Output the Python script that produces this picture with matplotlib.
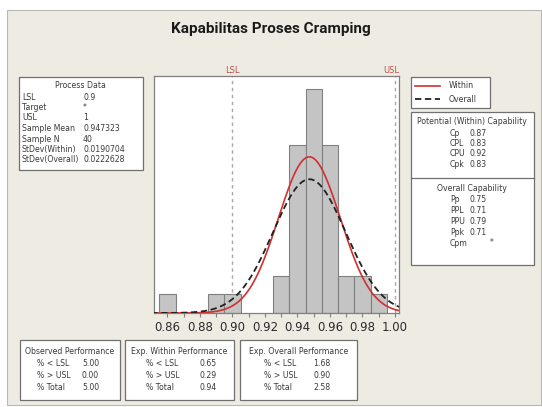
import numpy as np
import matplotlib
matplotlib.use('Agg')
import matplotlib.pyplot as plt
from matplotlib.patches import Rectangle

# Process data / histogram values
bin_centers = [0.86, 0.89, 0.90, 0.93, 0.94, 0.95, 0.96, 0.97, 0.98, 0.99]
counts = [1, 1, 1, 2, 9, 12, 9, 2, 2, 1]
bin_width = 0.01
lsl = 0.9
usl = 1.0
mean = 0.947323
n = 40
sd_within = 0.0190704
sd_overall = 0.0222628

process_labels = ['LSL', 'Target', 'USL', 'Sample Mean', 'Sample N', 'StDev(Within)', 'StDev(Overall)']
process_values = ['0.9', '*', '1', '0.947323', '40', '0.0190704', '0.0222628']

within_labels = ['Cp', 'CPL', 'CPU', 'Cpk']
within_values = ['0.87', '0.83', '0.92', '0.83']
overall_labels = ['Pp', 'PPL', 'PPU', 'Ppk', 'Cpm']
overall_values = ['0.75', '0.71', '0.79', '0.71', '*']

perf_labels = ['% < LSL', '% > USL', '% Total']
observed_perf = ['5.00', '0.00', '5.00']
within_perf = ['0.65', '0.29', '0.94']
overall_perf = ['1.68', '0.90', '2.58']

W, H = 542, 407
BG = '#EEEBE2'
EDGE = '#707070'
TXT = '#3A3A3A'
FS = 5.6

fig = plt.figure(figsize=(W / 100, H / 100), dpi=100)
fig.patch.set_facecolor('white')


def fx(x):
    return x / W


def fy(y):
    return 1 - y / H


def box(x0, y0, x1, y1, face='white'):
    fig.patches.append(Rectangle((fx(x0), fy(y1)), fx(x1) - fx(x0), fy(y0) - fy(y1),
                                 transform=fig.transFigure, facecolor=face,
                                 edgecolor=EDGE, lw=0.9, zorder=0))


def txt(x, y, s, ha='left', **kw):
    fig.text(fx(x), fy(y), s, ha=ha, va='center', fontsize=kw.pop('fontsize', FS),
             color=kw.pop('color', TXT), family='DejaVu Sans', **kw)


# outer graph panel
fig.patches.append(Rectangle((fx(7), fy(405)), fx(541) - fx(7), fy(10) - fy(405),
                             transform=fig.transFigure, facecolor=BG,
                             edgecolor='#B8B8B8', lw=0.8, zorder=-1))

fig.text(fx(271), fy(29), 'Kapabilitas Proses Cramping', ha='center', va='center',
         fontsize=11, fontweight='bold', color='#1A1A1A', family='Roboto')

# main histogram
ax = fig.add_axes([fx(154), fy(313), fx(399) - fx(154), fy(76) - fy(313)])
ax.set_facecolor('white')
ax.bar(bin_centers, counts, width=bin_width, color='#C4C4C4', edgecolor='#808080', lw=0.8, zorder=2)

xs = np.linspace(0.85, 1.005, 400)
pdf_w = n * bin_width * np.exp(-0.5 * ((xs - mean) / sd_within) ** 2) / (sd_within * np.sqrt(2 * np.pi))
pdf_o = n * bin_width * np.exp(-0.5 * ((xs - mean) / sd_overall) ** 2) / (sd_overall * np.sqrt(2 * np.pi))
ax.plot(xs, pdf_w, color='#D03030', lw=1.2, zorder=4)
ax.plot(xs, pdf_o, color='#222222', lw=1.3, ls=(0, (3.5, 2)), zorder=5)

ax.axvline(lsl, color='#A8A8A8', lw=1.0, ls=(0, (2.5, 2.5)), zorder=1)
ax.axvline(usl, color='#A8A8A8', lw=1.0, ls=(0, (2.5, 2.5)), zorder=1)
ax.text(lsl, 1.006, 'LSL', transform=ax.get_xaxis_transform(), ha='center', va='bottom',
        fontsize=6, color='#C05050')
ax.text(usl - 0.002, 1.006, 'USL', transform=ax.get_xaxis_transform(), ha='center', va='bottom',
        fontsize=6, color='#C05050')

ax.set_xlim(0.8517, 1.0025)
ax.set_ylim(0, 12.7)
major = np.round(np.arange(0.86, 1.001, 0.02), 2)
ax.set_xticks(major)
ax.set_xticklabels(['%.2f' % t for t in major])
ax.set_xticks(np.round(np.arange(0.87, 1.0, 0.02), 2), minor=True)
ax.set_yticks([])
ax.tick_params(axis='x', which='both', labelsize=8.5, colors='#808080', length=3, width=0.8, pad=3,
               labelcolor='#2A2A2A')
for s in ax.spines.values():
    s.set_color('#808080')
    s.set_linewidth(0.9)

# Process Data box
box(19, 77, 143, 170)
txt(80, 85, 'Process Data', ha='center')
for i, (lab, val) in enumerate(zip(process_labels, process_values)):
    y = 97 + i * 10.5
    txt(22, y, lab)
    txt(83, y, val)

# legend box
box(411, 77, 490, 108)
fig.lines.append(plt.Line2D([fx(415), fx(440)], [fy(86), fy(86)], transform=fig.transFigure,
                            color='#D03030', lw=1.2))
fig.lines.append(plt.Line2D([fx(415), fx(440)], [fy(99), fy(99)], transform=fig.transFigure,
                            color='#222222', lw=1.3, ls=(0, (3.5, 2))))
txt(449, 86, 'Within')
txt(449, 99, 'Overall')

# capability box
box(411, 112, 534, 265)
fig.lines.append(plt.Line2D([fx(411), fx(534)], [fy(178), fy(178)], transform=fig.transFigure,
                            color=EDGE, lw=0.9))
txt(472, 122, 'Potential (Within) Capability', ha='center')
for i, (lab, val) in enumerate(zip(within_labels, within_values)):
    y = 133 + i * 10.5
    txt(450, y, lab)
    txt(470, y, val)
txt(472, 188, 'Overall Capability', ha='center')
for i, (lab, val) in enumerate(zip(overall_labels, overall_values)):
    y = 199 + i * 11
    txt(450, y, lab)
    txt(470 if val != '*' else 490, y, val)

# performance boxes
perf_boxes = [
    (20, 120, 'Observed Performance', 37, 82, observed_perf),
    (125, 234, 'Exp. Within Performance', 146, 199, within_perf),
    (240, 357, 'Exp. Overall Performance', 264, 313, overall_perf),
]
for x0, x1, title, lx, vx, vals in perf_boxes:
    box(x0, 340, x1, 400)
    txt((x0 + x1) / 2, 352, title, ha='center')
    for i, (lab, val) in enumerate(zip(perf_labels, vals)):
        y = 364 + i * 12
        txt(lx, y, lab)
        txt(vx, y, val)

fig.savefig('out.png', dpi=100)
